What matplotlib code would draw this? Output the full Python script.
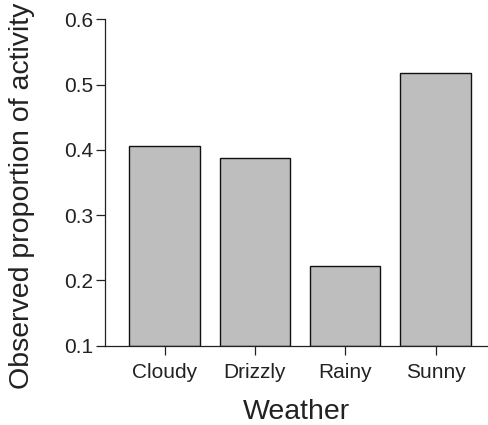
import matplotlib
matplotlib.use("Agg")
import matplotlib.pyplot as plt

categories = ["Cloudy", "Drizzly", "Rainy", "Sunny"]
values = [0.406, 0.388, 0.222, 0.518]
yticks = [0.1, 0.2, 0.3, 0.4, 0.5, 0.6]

plt.rcParams['font.family'] = ['Liberation Sans', 'DejaVu Sans']

fig = plt.figure(figsize=(4.88, 4.25), dpi=100)
ax = fig.add_axes([0.2152, 0.1866, 1.0 - 0.2152, 0.9546 - 0.1866])

x = list(range(len(categories)))
base = 0.1
ax.bar(x, [v - base for v in values], bottom=base, width=0.78,
       color="#bebebe", edgecolor="#111111", linewidth=1.0)

ax.set_ylim(0.1, 0.6)
ax.set_xlim(-0.659, 3.58)
ax.set_yticks(yticks)
ax.set_yticklabels([f"{t:.1f}" for t in yticks])
ax.set_xticks(x)
ax.set_xticklabels(categories)

for s in ["top", "right"]:
    ax.spines[s].set_visible(False)
for s in ["left", "bottom"]:
    ax.spines[s].set_linewidth(0.9)
    ax.spines[s].set_color("#222222")

ax.tick_params(axis="both", labelsize=15, length=6.5, width=0.9, color="#222222", colors="#222222")
ax.tick_params(axis="x", pad=6)
ax.tick_params(axis="y", pad=2)

ax.set_xlabel("Weather", fontsize=20.5, color="#222222", labelpad=12.5)
ax.set_ylabel("Observed proportion of activity", fontsize=20.5, color="#222222")
ax.yaxis.set_label_coords(-0.183, 0.459)

fig.savefig("out.png", dpi=100)
